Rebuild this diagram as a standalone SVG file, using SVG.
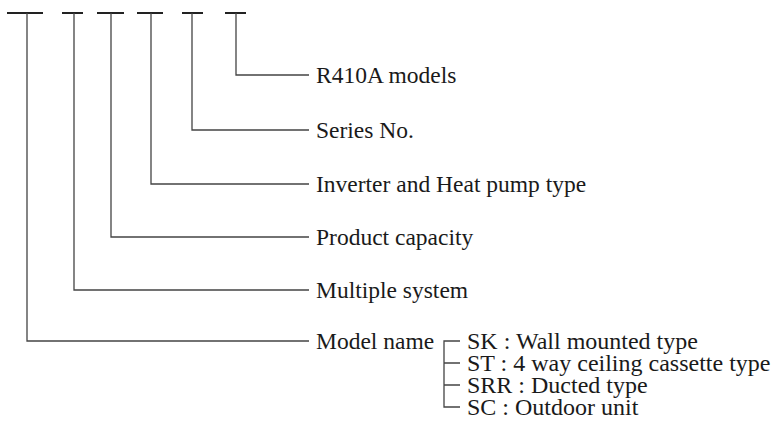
<svg xmlns="http://www.w3.org/2000/svg" width="774" height="427" viewBox="0 0 774 427">
<style>
.bar{stroke:#222;stroke-width:2.2;fill:none}
.ln{stroke:#444;stroke-width:1.3;fill:none}
text{font-family:"Liberation Serif","Times New Roman",serif;font-size:23.5px;fill:#1a1a1a}
.row{font-size:24px}
</style>
<rect width="774" height="427" fill="#fff"/>
<g id="connectors">
<path class="bar" d="M7,13H43M62,13H83M97,13H124M137,13H163M182,13H203M225,13H246"/>
<path class="ln" d="M236,13V75H309"/>
<path class="ln" d="M192,13V130H309"/>
<path class="ln" d="M151,13V184H309"/>
<path class="ln" d="M111,13V237H309"/>
<path class="ln" d="M74,13V290H309"/>
<path class="ln" d="M27,13V341H309"/>
<path class="ln" d="M460,341H444V407H460M444,363H460M444,385H460"/>
</g>
<g id="r410a"><text x="316" y="83">R410A models</text></g>
<g id="series"><text x="316" y="138">Series No.</text></g>
<g id="inverter"><text x="316" y="192">Inverter and Heat pump type</text></g>
<g id="capacity"><text x="316" y="245">Product capacity</text></g>
<g id="multiple"><text x="316" y="298">Multiple system</text></g>
<g id="modelname"><text x="316" y="349">Model name</text></g>
<g id="types">
<text class="row" x="467" y="349">SK : Wall mounted type</text>
<text class="row" x="467" y="371">ST : 4 way ceiling cassette type</text>
<text class="row" x="467" y="393">SRR : Ducted type</text>
<text class="row" x="467" y="415">SC : Outdoor unit</text>
</g>
</svg>
